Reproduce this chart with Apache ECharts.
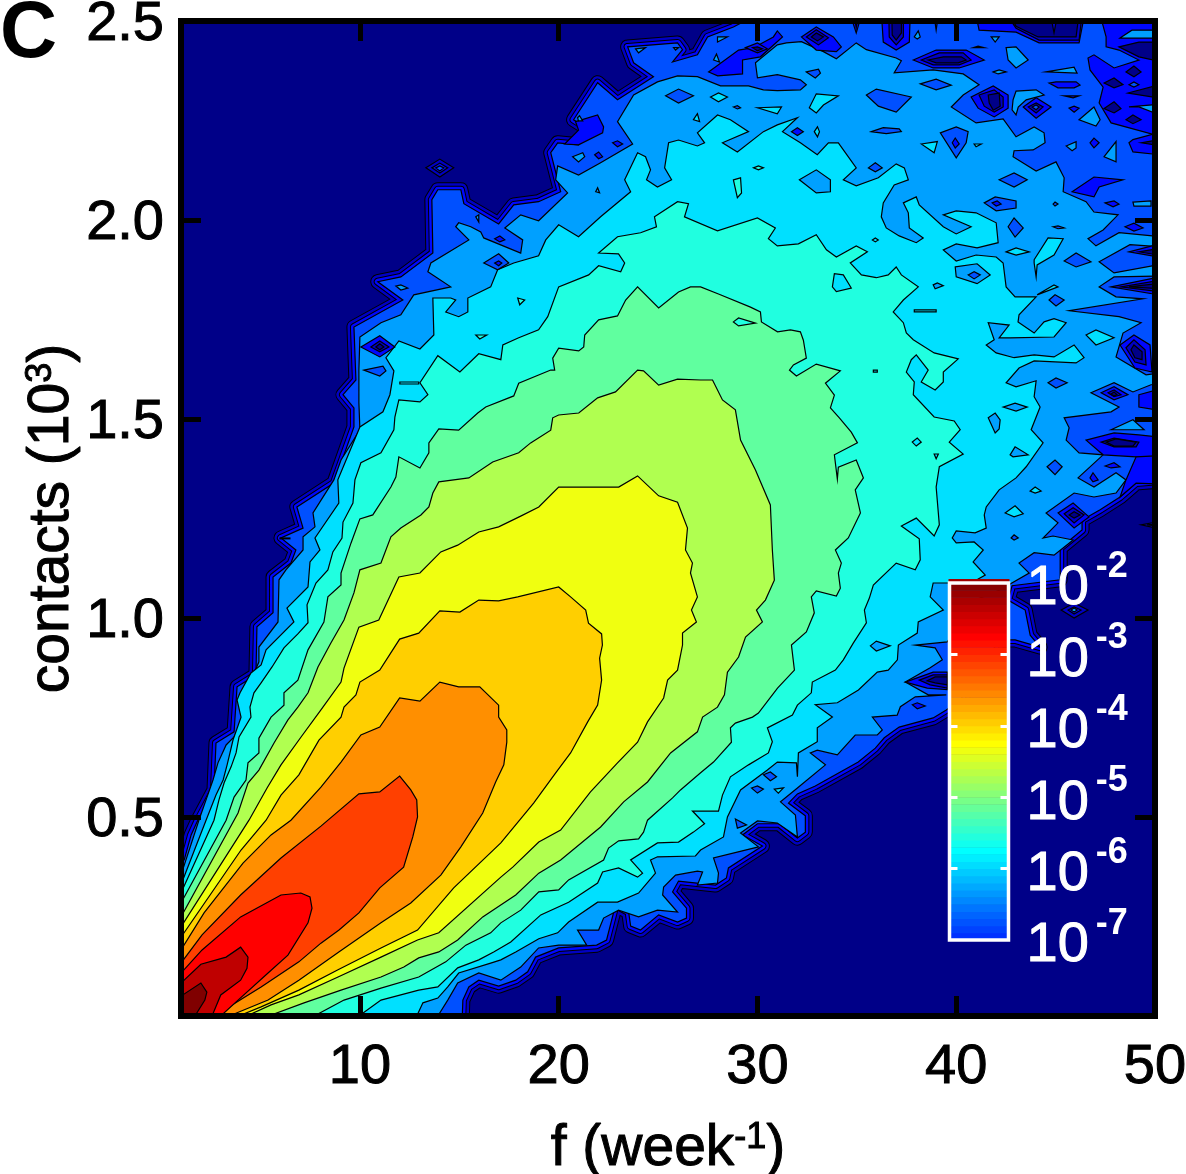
<!DOCTYPE html>
<html><head><meta charset="utf-8">
<script src="https://cdn.jsdelivr.net/npm/echarts@6/dist/echarts.min.js"></script>
<style>html,body{margin:0;padding:0;background:#fff}#c{width:1186px;height:1174px}</style>
</head><body><div id="c"></div>
<script>
// Contour levels: colour of each filled level, lowest to highest
const levelColors=['#000088','#0000c4','#0008ff','#0050ff','#00a0ff','#00e0ff','#20ffe0','#60ff9f','#b0ff50','#f0ff10','#ffcf00','#ff8f00','#ff4000','#ff0000','#bf0000','#800000'];
// Contour outlines as flat f,contacts(10^3) pairs
const band3=[0,-.1,0,.39,1.16,.392,1.51,.455,1.81,.488,2.66,.568,2.76,.686,3.67,.714,3.82,.827,4.77,.857,4.82,.978,5.63,1.013,5.63,1.103,6.53,1.138,6.78,1.171,6.03,1.201,7.14,1.226,6.83,1.279,8.69,1.339,9.7,1.48,9.7,1.528,9.15,1.561,9.8,1.598,9.7,1.731,12.16,1.799,10.9,1.845,12.06,1.857,13.67,1.917,13.62,2.051,13.92,2.076,15.08,2.076,15.23,2.041,16.98,1.99,17.74,2.038,18.99,2.046,20.1,2.071,19.6,2.169,19.95,2.194,21,2.189,21.71,2.222,20.75,2.252,21.96,2.345,22.96,2.302,24.77,2.36,23.77,2.395,23.47,2.435,25.98,2.445,26.23,2.428,25.73,2.397,26.98,2.415,27.49,2.46,28.79,2.485,30.15,2.52,30.2,2.7,51,2.7,51,1.347,49.05,1.339,48.24,1.304,47.24,1.272,46.33,1.246,46.33,1.221,45.23,1.176,45.23,1.096,42.81,1.081,42.61,1.045,43.47,1.02,43.72,.957,44.22,.927,42.96,.945,42.21,.945,41.46,.895,40.2,.794,39.5,.769,38.84,.749,37.13,.726,36.38,.699,35.93,.673,35.07,.638,32.91,.578,32.01,.558,31.56,.535,32.41,.503,32.41,.462,32.01,.447,31.1,.483,30,.483,29.25,.455,30.25,.427,28.54,.372,28.44,.347,27.89,.329,26.03,.339,25.73,.312,26.43,.271,26.43,.246,25.98,.236,25.03,.254,24.12,.216,23.62,.226,23.52,.261,22.86,.279,22.41,.191,21.91,.178,20,.171,18.84,.148,18.44,.111,17.84,.09,16.98,.075,15.98,.09,15.48,.073,15.18,.04,15.08,-.1];
const band4=[1,.354,1.91,.493,2.26,.543,2.61,.593,2.86,.636,3.27,.681,3.67,.701,4.17,.749,4.02,.782,4.47,.837,4.92,.89,4.92,.927,5.88,.99,5.93,1.096,6.28,1.121,7.14,1.171,7.14,1.204,7.74,1.229,7.64,1.264,8.69,1.347,9.05,1.397,10,1.473,9.95,1.541,9.95,1.623,10,1.706,11.06,1.742,12.06,1.762,12.71,1.812,14.57,1.832,13.42,1.87,13.57,1.892,15.48,1.95,14.82,1.983,14.97,1.993,15.58,1.983,16.08,1.97,16.23,1.955,18.09,1.917,18.19,1.95,17.29,1.98,18.09,2.013,18.99,1.998,20.45,2.068,19.85,2.101,19.95,2.136,21,2.113,22.11,2.144,23.72,2.191,22.96,2.247,23.77,2.314,24.97,2.347,25.98,2.362,26.98,2.36,28.14,2.337,29.55,2.337,30.3,2.327,31,2.325,32.16,2.327,32.46,2.34,32.16,2.352,31,2.365,30,2.357,29.9,2.395,31,2.44,31.46,2.445,32.21,2.448,33.32,2.423,33.97,2.405,34.97,2.445,35.48,2.428,36.98,2.407,37.24,2.4,36.88,2.37,38.84,2.377,40.35,2.367,41.15,2.34,40.35,2.314,39.75,2.284,41,2.244,42.36,2.254,43.01,2.209,43.92,2.234,44.42,2.219,44.47,2.194,43.87,2.176,42.91,2.174,42.86,2.159,44.02,2.123,45.02,2.146,45.43,2.106,45.38,2.071,46.53,2.046,46.93,2.02,48.14,2.013,47.39,1.975,46.63,1.953,47.03,1.935,48.19,1.968,51,1.955,51,1.93,48.74,1.938,47.19,1.895,47.94,1.867,51,1.895,51,1.86,47.94,1.857,47.19,1.832,48.04,1.807,49.4,1.802,45.68,1.772,48.19,1.757,49.3,1.742,48.39,1.716,48.29,1.699,48.04,1.656,49.55,1.611,51,1.62,51,1.59,49.8,1.586,48.89,1.568,47.94,1.591,46.78,1.566,48.19,1.53,47.79,1.518,45.43,1.503,45.68,1.478,45.53,1.447,46.18,1.415,47.39,1.41,46.13,1.352,46.93,1.329,48.04,1.365,48.54,1.347,48.04,1.314,46.93,1.304,45.93,1.314,44.52,1.264,45.12,1.239,44.37,1.201,44.87,1.206,45.88,1.196,44.92,1.158,43.92,1.164,43.16,1.138,43.67,1.113,42.21,1.071,40.95,1.045,39.55,.94,37.94,.932,38.94,.925,39.3,.895,38.69,.875,37.44,.839,38.59,.807,39.5,.807,37.94,.802,37.19,.777,37.03,.756,35.78,.751,36.28,.719,36.03,.706,34.92,.706,34.02,.656,33.01,.668,32.66,.661,33.42,.631,32.01,.573,31.16,.538,31.91,.505,32.01,.45,31,.485,30,.49,29.15,.46,30.05,.425,27.79,.397,28.04,.359,27.99,.334,26.98,.329,27.24,.362,26.98,.364,25.88,.354,25.28,.324,25.23,.304,25.98,.261,24.97,.266,24.02,.249,23.01,.266,22.26,.246,22.01,.216,20.95,.216,21.41,.178,20,.178,18.99,.171,18.09,.123,17.09,.09,15.98,.108,14.92,.083,14.42,.04,13.92,0,1,0];
const band5=[1,.33,2.26,.492,2.76,.555,3.12,.593,3.32,.631,3.62,.694,4.02,.751,3.82,.794,3.97,.812,4.52,.862,5.03,.882,5.28,.92,6.68,.99,6.33,1.025,7.39,1.078,7.49,1.141,7.99,1.171,7.74,1.201,8.94,1.289,8.89,1.347,10,1.48,11.16,1.518,11.51,1.561,11.71,1.621,11.31,1.654,11.96,1.696,13.02,1.676,13.72,1.711,13.67,1.804,14.57,1.804,14.82,1.799,14.32,1.769,14.97,1.757,15.43,1.769,15.43,1.804,16.58,1.832,16.93,1.875,17.74,1.892,18.99,1.91,19.35,1.95,20,1.988,21,1.958,22.11,2.008,23.62,2.071,23.32,2.101,23.97,2.169,24.37,2.159,24.62,2.126,24.42,2.101,24.97,2.083,25.68,2.101,25.33,2.131,25.53,2.194,26.03,2.201,26.98,2.186,27.34,2.194,26.98,2.219,27.99,2.264,28.64,2.252,29.55,2.222,28.24,2.194,28.99,2.171,30.3,2.222,31,2.239,32.01,2.257,31.26,2.222,32.16,2.194,33.01,2.164,33.57,2.194,34.07,2.194,34.97,2.131,34.32,2.101,34.97,2.086,36.08,2.106,36.98,2.141,37.39,2.131,37.59,2.101,36.88,2.088,36.33,2.043,36.23,2.008,36.48,1.98,37.13,1.96,37.99,1.943,38.34,1.955,37.64,1.98,37.59,2.018,37.34,2.043,37.99,2.058,38.14,2.038,39.35,1.983,40,1.965,40.75,1.983,39.35,2.013,40,2.023,41,2.018,42.01,1.993,42.11,1.943,41.05,1.93,40,1.94,39.35,1.925,40,1.897,41,1.912,42.01,1.907,42.36,1.892,42.51,1.832,42.96,1.807,44.02,1.807,43.16,1.762,43.11,1.744,43.92,1.716,44.42,1.744,44.92,1.752,45.53,1.742,44.92,1.706,42.71,1.704,42.16,1.704,42.66,1.736,41.61,1.742,41.91,1.699,41.51,1.686,42.01,1.666,42.91,1.654,43.92,1.661,44.92,1.656,45.93,1.686,46.43,1.654,46.03,1.641,43.92,1.646,43.16,1.628,42.51,1.591,43.01,1.581,44.02,1.596,43.92,1.556,44.22,1.53,43.77,1.473,44.37,1.44,43.52,1.38,43.01,1.352,42.16,1.322,41.51,1.279,41.41,1.259,41.51,1.226,40.95,1.214,40,1.219,39.8,1.201,40,1.189,40.9,1.191,41.36,1.171,40.85,1.141,41.46,1.108,40.75,1.088,38.84,1.088,38.69,1.053,39.35,1.02,38.09,.99,38.04,.962,37.09,.932,37.04,.895,36.58,.869,36.03,.864,35.08,.819,34.02,.787,32.91,.782,33.77,.751,33.01,.724,33.01,.689,32.06,.661,32.01,.601,31.96,.636,31,.638,30.5,.618,29.15,.568,28.49,.5,28.29,.45,27.14,.417,26.88,.402,24.97,.4,24.62,.392,24.87,.359,24.02,.309,22.96,.286,21.96,.286,20.5,.236,19.95,.209,19,.194,17.84,.161,17.09,.141,16.58,.133,14.97,.108,14.42,.073,13.92,.045,13.17,.033,12.86,0,1,0];
const band6=[1,.309,2.66,.492,2.91,.543,3.17,.586,3.52,.626,3.77,.661,3.92,.701,4.52,.751,4.47,.776,4.67,.812,5.03,.837,5.58,.877,6.18,.925,6.88,.96,7.39,.988,7.34,1.033,7.79,1.088,8.39,1.121,8.64,1.166,9.1,1.201,9.15,1.241,9.65,1.289,9.75,1.347,10.05,1.39,11.06,1.415,11.71,1.473,11.76,1.505,11.96,1.548,13.02,1.543,13.42,1.561,13.02,1.591,13.92,1.659,15.03,1.618,15.98,1.664,17.09,1.649,17.19,1.686,17.99,1.704,18.99,1.724,19.45,1.757,20,1.832,21.51,1.862,22.01,1.885,23.12,1.87,23.32,1.892,23.01,1.915,22.01,1.917,22.96,1.958,24.12,1.968,24.92,1.983,24.82,2.008,25.98,2.046,26.53,2.041,26.33,2.008,27.99,1.973,30,2.005,30.9,1.98,30.55,1.953,31,1.935,32.06,1.94,32.96,1.963,33.47,1.925,33.97,1.907,34.97,1.935,35.53,1.92,34.67,1.892,35.23,1.862,35.98,1.855,36.58,1.862,36.98,1.882,37.24,1.862,38.09,1.832,37.34,1.799,36.83,1.769,37.34,1.742,37.49,1.716,37.84,1.699,38.89,1.666,40.1,1.651,39.35,1.618,39.35,1.593,38.94,1.573,38.24,1.593,38.59,1.623,37.99,1.661,37.74,1.649,37.49,1.618,37.89,1.593,37.84,1.561,38.89,1.505,39.9,1.495,40.2,1.473,39.65,1.442,40.35,1.412,39.15,1.38,38.99,1.329,39.15,1.234,38.89,1.206,37.99,1.251,37.24,1.231,38.14,1.199,38.19,1.146,37.94,1.121,36.98,1.138,35.83,1.083,35.63,1.05,35.38,1.02,35.48,.988,34.82,.937,34.32,.895,33.92,.869,32.76,.839,32.71,.812,32.01,.781,31.76,.756,30.5,.724,30.75,.689,30.55,.661,29.55,.631,28.64,.601,28.24,.555,28.04,.515,26.73,.515,27.34,.483,26.78,.462,26.03,.437,24.97,.435,23.62,.392,24.22,.359,23.97,.349,23.01,.372,22.21,.362,21.96,.334,20.5,.286,19.1,.254,17.59,.186,16.73,.161,15.98,.141,14.92,.121,13.92,.073,12.96,.065,11.06,.04,9.95,0,1,0];
const band7=[1,.284,3.27,.492,3.67,.55,4.27,.593,4.37,.636,4.92,.661,4.92,.698,5.53,.751,6.18,.781,6.18,.812,6.88,.844,7.39,.92,8.19,.99,8.39,1.053,9.05,1.083,9.05,1.113,9.55,1.188,10,1.249,10.65,1.259,11.56,1.329,11.81,1.354,11.96,1.405,13.02,1.377,13.47,1.415,13.47,1.44,13.97,1.475,14.97,1.472,15.93,1.515,16.33,1.53,17.74,1.558,17.99,1.59,19.6,1.623,19.8,1.623,19.7,1.653,20,1.678,21.01,1.671,21.26,1.681,21.31,1.711,22.01,1.749,22.96,1.759,23.37,1.799,23.97,1.832,25.03,1.779,26.03,1.819,26.63,1.832,27.14,1.832,28.04,1.814,29.65,1.781,30.15,1.769,30.2,1.744,31.01,1.719,31.66,1.724,32.16,1.719,32.31,1.698,32.46,1.653,31.81,1.636,31.61,1.623,31.96,1.608,32.96,1.638,34.17,1.621,33.42,1.59,33.87,1.56,33.67,1.528,34.12,1.503,34.72,1.467,35.03,1.44,33.87,1.41,34.02,1.349,34.07,1.379,34.97,1.397,35.33,1.352,34.92,1.322,35.18,1.264,34.57,1.201,33.92,1.171,34.22,1.138,34.07,1.113,34.17,1.075,33.97,1.055,32.96,1.068,32.71,1.053,32.86,1.013,32.46,.965,31.71,.932,31.86,.869,31.01,.824,30.05,.761,29.75,.751,28.89,.736,28.64,.724,28.69,.688,27.79,.638,27.14,.611,26.13,.568,25.73,.548,24.47,.492,24.27,.462,24.02,.445,23.02,.44,22.51,.422,22.26,.392,20.5,.342,20,.317,19,.312,18.09,.266,17.09,.234,16.58,.209,15.33,.178,14.32,.136,12.96,.098,11.06,.07,9.2,.04,7.7,0,1,0];
const band8=[1,.249,3.87,.51,4.37,.585,4.92,.618,5.68,.686,6.38,.744,6.88,.776,7.39,.812,7.89,.877,8.54,.937,9.2,.995,9.7,1.063,10,1.121,11.06,1.138,11.56,1.204,12.06,1.226,13.07,1.259,13.47,1.279,13.67,1.314,13.97,1.342,15.48,1.352,16.68,1.392,17.99,1.415,18.59,1.44,19.6,1.472,19.7,1.503,20,1.51,21.01,1.515,21.96,1.553,22.86,1.568,23.97,1.623,24.27,1.621,25.03,1.585,25.98,1.6,27.14,1.598,27.74,1.598,28.24,1.548,28.89,1.523,29.15,1.447,29.9,1.372,30.65,1.284,30.75,1.171,30.85,1.095,30.4,1.045,29.95,1.02,30.25,.99,29.4,.952,29.05,.902,28.49,.864,28.34,.807,27.99,.776,27.24,.751,26.98,.714,25.63,.661,24.47,.588,23.27,.538,22.11,.475,20.1,.392,19,.359,17.84,.304,16.18,.249,14.92,.191,13.97,.161,12.96,.146,12.21,.123,11.06,.098,9.05,.065,7.19,.033,5.4,0,1,0];
const band9=[1,.224,4.42,.492,5.33,.573,6.03,.631,7.04,.701,8.04,.769,9.05,.839,9.2,.874,9.95,.977,10.95,.995,11.96,1.103,13.02,1.113,14.07,1.166,14.92,1.183,15.98,1.216,16.98,1.229,18.09,1.256,19,1.279,20,1.329,23.02,1.329,23.97,1.357,25.03,1.307,25.98,1.291,26.48,1.226,26.38,1.171,26.73,1.138,26.63,1.113,26.98,1.053,26.68,1.02,26.93,.99,26.23,.962,26.23,.932,25.98,.869,25.48,.844,25.28,.799,24.47,.739,23.97,.688,22.96,.636,21.6,.563,20.1,.467,19,.437,17.69,.374,17.09,.349,13.97,.209,12.9,.191,11.06,.148,8.9,.098,6.93,.053,5.53,.028,4.3,0,1,0];
const band10=[1,.198,4.02,.417,5.28,.492,6.03,.555,6.93,.606,7.94,.693,9.05,.751,9.2,.776,9.8,.807,10,.839,11,.869,12,.947,12.96,.962,14.02,1.018,15.03,1.015,15.98,1.045,16.98,1.043,17.94,1.053,20,1.078,20.6,1.053,21.36,1.02,21.5,.987,22.16,.96,22.2,.932,22.06,.899,22.16,.844,21.96,.781,21.46,.739,20.6,.661,19.85,.611,18.74,.535,17.09,.435,14.72,.322,12.9,.216,11.06,.171,8.9,.116,6.93,.065,5.03,.023,3.9,0,1,0];
const band11=[1,.166,2.16,.259,4.12,.384,5.53,.455,6.53,.492,8.04,.575,9.05,.638,10.05,.706,11,.726,12,.799,13.02,.791,14.02,.839,14.97,.827,16.03,.827,16.98,.781,16.98,.751,17.39,.719,17.39,.688,17.24,.631,16.83,.588,16.18,.51,15.08,.425,14.07,.354,12.56,.284,11.06,.234,8.94,.161,6.93,.09,5.38,.04,3.67,.005,3.3,0,1,0];
const band12=[1,.133,2.06,.204,4,.304,6.03,.397,8.04,.477,9.95,.558,11,.563,12,.603,12.56,.568,12.86,.543,12.9,.5,12.66,.45,12.2,.374,11,.322,9.95,.259,8.95,.216,8.04,.183,6.93,.136,5.03,.073,3,.01,2.9,0,1,0];
const band13=[1,.108,2.06,.166,4,.249,6.03,.304,7.03,.309,7.49,.299,7.59,.271,7.39,.234,6.38,.153,5.38,.108,3.87,.04,3,0,1,0];
const band14=[1,.083,2,.13,3.27,.148,4,.173,4.37,.148,4.32,.12,4,.09,3,.053,2.56,0,1,0];
const band15=[1,.05,2,.083,2.3,.06,2.2,.04,1.7,0,1,0];
// Small closed contours: level index, then flat f,contacts pairs
const islands=[
[2,32.21,2.46,32.96,2.485,33.82,2.46,34.22,2.435,33.97,2.423,32.96,2.427],[1,32.46,2.46,32.96,2.478,33.57,2.458,33.07,2.44],[0,32.71,2.46,32.96,2.47,33.32,2.46,33.02,2.45],
[2,34.12,2.6,34.97,2.47,35.73,2.6],[0,34.57,2.6,34.97,2.483,35.38,2.6],
[2,36.13,2.6,36.33,2.447,36.98,2.427,37.64,2.447,37.74,2.6],[1,36.58,2.6,36.63,2.46,36.98,2.44,37.34,2.46,37.34,2.6],[0,36.73,2.6,36.78,2.465,36.98,2.452,37.24,2.47,37.24,2.6],
[2,38.64,2.6,38.99,2.477,39.35,2.6],
[2,40.65,2.6,41.15,2.477,43.01,2.472,44.17,2.445,46.18,2.445,46.78,2.6],[1,41.36,2.6,43.01,2.482,44.17,2.452,46.18,2.452,46.53,2.6],[0,41.66,2.6,43.01,2.487,44.12,2.46,46.03,2.46,46.38,2.6],[1,44.42,2.6,44.92,2.47,45.43,2.6],
[2,46.78,2.6,47.54,2.46,47.54,2.435,48.19,2.427,49.19,2.402,47.94,2.382,46.93,2.415,46.63,2.407,46.73,2.377,47.39,2.334,47.19,2.294,47.79,2.244,51,2.2,51,2.6],
[4,48.24,2.457,48.84,2.477,51,2.477,51,2.457],[0,48.19,2.435,49.19,2.447,51,2.447,51,2.39,49.19,2.41],[0,48.64,2.319,51,2.35,51,2.3],[0,48.54,2.372,48.94,2.387,49.3,2.372,48.94,2.36],[0,47.44,2.344,47.94,2.357,48.39,2.34,47.94,2.332],[3,48.69,2.34,48.94,2.347,49.19,2.34,48.94,2.334],[0,47.44,2.28,47.94,2.297,48.29,2.28,47.94,2.269],[0,48.54,2.252,48.89,2.264,49.3,2.252,48.89,2.242],[4,48.69,2.284,51,2.294,51,2.25,49.19,2.284],[2,48.69,2.194,48.89,2.202,51,2.23,51,2.16,48.89,2.171],[0,49.3,2.194,51,2.209,51,2.181],
[2,37.84,2.402,38.99,2.427,40.5,2.427,41.41,2.402,40.15,2.382,38.84,2.382],[1,38.24,2.402,39.15,2.42,40.35,2.42,40.75,2.402,40.15,2.39,38.84,2.39],[0,38.59,2.402,39.35,2.41,40.25,2.41,40.5,2.402,40.1,2.395,38.99,2.395],
[4,42.51,2.433,43.01,2.435,43.62,2.402,43.01,2.382,42.61,2.402],[4,41.76,2.46,42.16,2.46,41.96,2.447],[4,40.85,2.433,41.41,2.433,41.1,2.437],[4,41.86,2.372,42.16,2.377,42.51,2.372,42.11,2.367],[4,44.52,2.372,45.93,2.384,46.08,2.369],[4,37.89,2.46,38.09,2.475,38.19,2.46,38.04,2.455],[4,46.18,2.252,46.93,2.284,47.24,2.252,47.03,2.236],
[3,32.46,2.372,33.07,2.379,33.17,2.369,32.91,2.357],[3,35.48,2.314,35.98,2.329,37.74,2.309,36.98,2.271,36.08,2.286],[3,38.19,2.342,38.99,2.354,39.75,2.339,38.99,2.327],[2,44.67,2.344,45.02,2.347,46.03,2.347,46.23,2.339,45.93,2.332,45.12,2.332],[2,45.43,2.312,46.18,2.312,45.88,2.307],[2,45.68,2.281,45.93,2.286,46.18,2.281,45.93,2.271],
[2,40.75,2.309,41.86,2.337,42.61,2.314,42.61,2.281,41.91,2.259,41.1,2.281],[1,41.15,2.314,41.91,2.327,42.36,2.309,42.36,2.284,41.91,2.271,41.41,2.286],[0,41.61,2.314,42.16,2.319,42.21,2.286,41.86,2.276,41.66,2.294],
[4,42.86,2.302,43.01,2.324,44.02,2.327,44.42,2.314,43.52,2.302,43.12,2.284,43.01,2.264,42.81,2.277],
[2,43.37,2.284,44.02,2.307,44.77,2.284,44.02,2.256],[1,43.62,2.284,44.02,2.294,44.37,2.284,44.02,2.269],[3,43.82,2.284,44.02,2.289,44.17,2.284,44.02,2.277],
[4,45.53,2.186,46.03,2.197,46.03,2.181,45.83,2.174],[2,46.73,2.194,46.93,2.206,47.19,2.194,46.93,2.181],[4,47.44,2.159,48.04,2.197,48.04,2.146],[2,45.83,2.071,46.93,2.108,48.39,2.101,47.19,2.083,46.93,2.058],
[3,42.16,2.101,42.91,2.118,43.57,2.101,42.91,2.083],[3,41.41,2.043,41.96,2.058,43.01,2.048,43.01,2.03,42.01,2.023],[2,41.81,2.043,42.06,2.048,42.26,2.04,42.01,2.035],[3,44.87,2.04,44.97,2.045,45.12,2.04,44.97,2.035],[2,47.49,2.043,47.94,2.048,48.19,2.04,47.89,2.033],[4,48.89,2.045,49.8,2.048,49.8,2.035,48.94,2.035],
[3,42.61,1.983,42.91,2.005,43.37,1.98,42.96,1.957],[3,44.87,1.983,45.12,1.985,45.43,1.98,45.12,1.978],[2,48.49,1.983,48.94,1.992,49.4,1.98,48.94,1.972],
[2,48.69,1.92,51,1.95,51,1.9],[0,49.19,1.92,51,1.935,51,1.905],[2,47.79,1.832,51,1.865,51,1.805],[1,48.29,1.832,51,1.855,51,1.815],[0,48.69,1.832,51,1.845,51,1.825],
[3,44.67,1.799,44.97,1.812,45.43,1.799,45.02,1.784],[3,45.43,1.897,46.03,1.917,46.78,1.895,46.03,1.882],[4,39.95,1.882,41.05,1.89,41.71,1.862,41.05,1.84,40,1.857],[3,40.6,1.862,40.9,1.87,41.21,1.862,40.9,1.852],[4,38.84,1.837,39.05,1.842,39.35,1.835,38.94,1.827],
[5,42.51,1.92,43.01,1.93,43.67,1.92,43.01,1.912],[5,43.92,1.9,44.62,1.955,45.38,1.953,44.92,1.912,44.07,1.887,44.02,1.857,43.92,1.892],[5,44.07,1.812,44.92,1.837,45.12,1.832],[5,46.53,1.711,47.03,1.724,47.94,1.704,47.03,1.686],
[2,48.24,1.686,48.94,1.711,49.75,1.686,49.85,1.618,48.99,1.628],[1,48.54,1.679,48.94,1.699,49.5,1.674,49.55,1.636,48.99,1.643],[0,48.79,1.674,48.94,1.686,49.35,1.669,49.35,1.649,48.99,1.654],
[5,32.61,2.282,32.96,2.317,34.07,2.312,33.32,2.289,32.96,2.269],[5,30,2.282,31.21,2.284,31,2.267],[5,27.64,2.309,28.04,2.319,28.49,2.309,28.04,2.297],[3,25.38,2.312,26.03,2.329,26.78,2.312,26.03,2.294],[5,26.78,2.252,26.98,2.267,27.09,2.247],[3,28.79,2.284,28.99,2.287,29.15,2.282,28.99,2.279],[2,31.71,2.222,32.01,2.232,32.31,2.222,32.01,2.212],[5,32.86,2.222,33.02,2.234,33.12,2.222,33.02,2.209],[3,35.73,2.222,36.33,2.232,37.13,2.229,37.24,2.222,36.48,2.217],
[3,39.2,2.219,40,2.234,40.6,2.222,40.5,2.194,40,2.156],[2,39.8,2.194,39.95,2.206,40.15,2.191,39.95,2.181],[5,38.24,2.191,39.05,2.197,38.89,2.169],[5,40.9,2.191,41.26,2.191,41,2.184],[3,35.58,2.131,35.93,2.144,36.28,2.131,35.93,2.121],[4,32.11,2.101,32.96,2.126,33.67,2.101,33.67,2.071,32.96,2.068],
[6,28.79,2.101,29.15,2.106,29.2,2.068,28.99,2.056],[6,29.8,2.131,30.05,2.136,30.3,2.131,30.05,2.126],[4,21.86,2.071,21.96,2.081,22.06,2.068],[4,20.7,2.159,21.21,2.169,21.31,2.159,21,2.146],[2,21.81,2.164,22.01,2.171,22.21,2.159,22.01,2.154],[2,22.71,2.194,22.96,2.199,23.22,2.191,22.96,2.184],
[2,20.85,2.247,21.96,2.264,22.26,2.234,22.21,2.219,21,2.189,20.3,2.191,21,2.226],[4,20.95,2.257,21.05,2.262,21.21,2.249,21,2.249],[4,23.87,2.43,24.37,2.433,24.02,2.42],[4,25.78,2.433,26.03,2.433,25.88,2.427],
[2,27.54,2.372,29.05,2.427,29.8,2.433,30.8,2.46,31,2.475,31.26,2.46,30.15,2.41,29.25,2.402,29.25,2.367,28,2.362],[4,27.99,2.46,28.49,2.46,27.99,2.447],[4,27.79,2.402,27.94,2.417,28.09,2.397],[2,29.4,2.433,30,2.445,30.5,2.43,30,2.42],[0,29.75,2.433,30,2.435,30.25,2.43,30,2.425],
[1,13.32,2.131,14.02,2.153,14.72,2.131,14.02,2.108],[2,13.62,2.131,14.02,2.143,14.42,2.131,14.02,2.118],[3,13.82,2.131,14.02,2.136,14.22,2.131,14.02,2.123],
[4,15.83,2.008,15.98,2.013,15.98,1.995],[2,16.78,1.953,17.04,1.96,17.29,1.95,17.04,1.945],[3,16.23,1.892,16.98,1.915,17.49,1.892,16.93,1.875],[2,16.78,1.892,16.98,1.897,17.14,1.892,16.98,1.885],[6,17.94,1.804,18.29,1.799,18.04,1.787],[6,15.83,1.711,16.38,1.711,16.03,1.701],[6,28.79,1.744,29.05,1.754,29.9,1.741,29.05,1.734],
[5,33.77,1.832,33.87,1.865,34.32,1.862,34.72,1.829,33.97,1.82],[5,35.78,1.95,35.93,1.955,36.08,1.95,35.93,1.945],[5,37.89,1.774,38.99,1.774,38.99,1.769,37.89,1.769],[5,37.79,1.442,38.04,1.452,38.24,1.442,37.99,1.432],[5,38.89,1.412,39.1,1.412,38.99,1.4],[5,35.83,1.623,36.03,1.623,36.03,1.618,35.83,1.618],
[4,41.61,1.503,41.96,1.515,42.21,1.498,42.16,1.475,41.96,1.465],[4,42.36,1.53,42.96,1.54,43.57,1.53,43.01,1.52],[4,42.71,1.41,42.96,1.43,43.62,1.41,42.86,1.405],[3,44.62,1.591,45.02,1.603,45.58,1.591,45.02,1.578],[3,44.57,1.38,44.97,1.397,45.33,1.38,44.97,1.36],[5,43.72,1.319,43.97,1.329,44.27,1.319,43.97,1.314],[5,42.46,1.264,42.96,1.282,43.37,1.262,42.91,1.254],[3,42.76,1.201,42.91,1.209,43.12,1.201,42.91,1.196],[4,35.68,.93,35.98,.942,36.68,.93,35.98,.917],
[2,47.29,1.566,47.94,1.581,48.64,1.561,47.94,1.548],[1,47.64,1.566,47.94,1.573,48.29,1.561,47.94,1.556],[0,47.79,1.563,47.94,1.568,48.09,1.561,47.94,1.558],[2,49.19,1.561,51,1.586,51,1.515,49.19,1.53],[4,47.79,1.473,48.89,1.498,49.45,1.473],
[2,46.53,1.447,47.94,1.465,49.19,1.46,51,1.45,51,1.405,49.05,1.405,47.39,1.41],[1,47.29,1.442,47.94,1.452,49.19,1.442,49.05,1.43,47.94,1.43],[0,47.54,1.442,48.04,1.45,49.05,1.442,48.89,1.432,47.94,1.432],[2,49.05,1.405,51,1.41,51,1.335,49.05,1.339,48.24,1.304,48.54,1.347],[2,47.49,1.382,47.94,1.39,48.24,1.38,47.79,1.377],[2,46.73,1.352,46.88,1.365,47.14,1.347,46.88,1.342],
[2,45.12,1.264,45.88,1.289,46.68,1.254,45.93,1.226],[1,45.43,1.262,45.88,1.277,46.43,1.259,45.93,1.239],[0,45.68,1.259,45.93,1.267,46.23,1.259,45.93,1.251],[1,49.3,1.234,51,1.25,51,1.215],[3,49.6,1.234,51,1.24,51,1.228],
[1,45.28,1.02,45.93,1.038,46.63,1.02,45.93,1],[2,45.63,1.02,45.93,1.028,46.28,1.02,45.93,1.01],[4,45.78,1.02,45.93,1.025,46.08,1.02,45.93,1.015],
[2,37.44,.839,38.84,.864,39.55,.864,39.55,.82,38.54,.824],[1,38.14,.844,38.84,.857,39.55,.857,39.55,.824,38.69,.832],[0,38.54,.842,38.94,.852,39.55,.852,39.55,.832,38.94,.837],[2,37.79,.782,38.04,.787,38.44,.779,38.04,.772],
[3,28.89,.495,29.45,.48,28.99,.472],[3,30.3,.606,30.65,.613,30.96,.601,30.65,.591],[3,29.7,.573,30,.578,30.3,.57,30,.56],[5,30.85,.57,31.31,.573,31.05,.56],
[2,10.05,1.681,11,1.709,11.76,1.681,11,1.656],[1,10.55,1.681,11,1.696,11.46,1.681,11,1.669],[0,10.8,1.681,11,1.689,11.21,1.681,11,1.674],[3,10.2,1.623,11.16,1.633,11.31,1.621,11,1.608],[5,12.01,1.593,12.96,1.593,12.96,1.588,12.01,1.588],[4,11.81,1.834,12.06,1.837,12.41,1.829,12.06,1.824],[2,5.98,1.201,6.48,1.201,6.48,1.199,5.98,1.199]
];
const bandLevels=[[3,band3],[4,band4],[5,band5],[6,band6],[7,band7],[8,band8],[9,band9],[10,band10],[11,band11],[12,band12],[13,band13],[14,band14],[15,band15]];
// Axis tick labels
const xTicks=[10,20,30,40,50];
const yTicks=[0.5,1.0,1.5,2.0,2.5];
const barTicks=[-7,-6,-5,-4,-3,-2];
const barInnerTicks=[-6,-5,-4,-3];
const barStops=[[0,[0,40,255]],[.25,[0,255,255]],[.55,[255,255,0]],[.85,[255,0,0]],[1,[128,0,0]]];
const BAR_STEPS=50;

const FONT='"Liberation Sans", Arial, sans-serif';
const shapes=[];
bandLevels.forEach(b=>shapes.push({lvl:b[0],pts:b[1],env:b[0]===3}));
islands.forEach(a=>shapes.push({lvl:a[0],pts:a.slice(1)}));

function barColor(t){
  for(let i=1;i<barStops.length;i++){
    if(t<=barStops[i][0]){
      const a=barStops[i-1],b=barStops[i],k=(t-a[0])/(b[0]-a[0]);
      return 'rgb('+a[1].map((v,j)=>Math.round(v+(b[1][j]-v)*k)).join(',')+')';
    }
  }
  return 'rgb(128,0,0)';
}
const chart=echarts.init(document.getElementById('c'),null,{renderer:'canvas'});
const tickStyle={show:true,inside:true,length:20,lineStyle:{color:'#000',width:5}};
const lineStyle={show:true,onZero:false,lineStyle:{color:'#000',width:6,cap:'square'}};
const labelStyle={color:'#000',fontFamily:FONT,fontSize:56,textBorderColor:'#000',textBorderWidth:1};
const supRich={s:{fontSize:36,color:'#000',fontFamily:FONT,verticalAlign:'top',textBorderColor:'#000',textBorderWidth:1,padding:[0,0,22,0]}};
function toPts(api,flat){const p=[];for(let i=0;i<flat.length;i+=2)p.push(api.coord([flat[i],flat[i+1]]));return p;}
chart.setOption({
  animation:false,
  backgroundColor:'#fff',
  title:{text:'C',left:-5,top:-9,textStyle:{fontFamily:FONT,fontWeight:'bold',fontSize:79,color:'#000'}},
  grid:[{left:181,top:21,width:974,height:995,show:true,backgroundColor:levelColors[0],borderWidth:0,outerBoundsMode:'none'},
        {left:949.5,top:583,width:59,height:357,show:false,outerBoundsMode:'none'}],
  xAxis:[
    {gridIndex:0,type:'value',min:1,max:50,position:'bottom',z:10,splitLine:{show:false},axisLine:lineStyle,
     axisTick:Object.assign({customValues:xTicks},tickStyle),
     axisLabel:Object.assign({customValues:xTicks,margin:24},labelStyle),
     name:'f (week{s|-1})',nameLocation:'middle',nameGap:104,
     nameTextStyle:{color:'#000',fontFamily:FONT,fontSize:57,textBorderColor:'#000',textBorderWidth:1,rich:supRich}},
    {gridIndex:0,type:'value',min:1,max:50,position:'top',z:10,splitLine:{show:false},axisLine:lineStyle,
     axisTick:Object.assign({customValues:xTicks.slice(0,4)},tickStyle),axisLabel:{show:false}},
    {gridIndex:1,type:'value',min:0,max:1,show:false}
  ],
  yAxis:[
    {gridIndex:0,type:'value',min:0,max:2.5,position:'left',z:10,splitLine:{show:false},axisLine:lineStyle,
     axisTick:Object.assign({customValues:yTicks},tickStyle),
     axisLabel:{customValues:yTicks,margin:17,formatter:v=>'{v|'+v.toFixed(1)+'}',
       rich:{v:Object.assign({padding:[8,0,0,0]},labelStyle)}},
     name:'contacts (10{s|3})',nameLocation:'middle',nameGap:100,nameRotate:90,nameMoveOverlap:false,
     nameTextStyle:{color:'#000',fontFamily:FONT,fontSize:57,textBorderColor:'#000',textBorderWidth:1,rich:supRich}},
    {gridIndex:0,type:'value',min:0,max:2.5,position:'right',z:10,splitLine:{show:false},axisLine:lineStyle,
     axisTick:Object.assign({customValues:yTicks.slice(0,4)},tickStyle),axisLabel:{show:false}},
    {gridIndex:1,type:'value',min:-7,max:-2,position:'right',z:12,splitLine:{show:false},axisLine:{show:false,onZero:false},
     axisTick:{show:true,inside:true,length:8,customValues:barInnerTicks,lineStyle:{color:'#fff',width:3}},
     axisLabel:{customValues:barTicks,margin:18,color:'#fff',fontFamily:FONT,
       formatter:v=>'{a|10}{b|'+v+'}',
       rich:{a:{color:'#fff',fontFamily:FONT,fontSize:56,textBorderColor:'#fff',textBorderWidth:1,padding:[12,0,0,0]},b:{color:'#fff',fontFamily:FONT,fontSize:36,fontWeight:'bold',verticalAlign:'top',padding:[0,0,0,7]}}}},
    {gridIndex:1,type:'value',min:-7,max:-2,position:'left',z:12,splitLine:{show:false},axisLine:{show:false,onZero:false},axisLabel:{show:false},
     axisTick:{show:true,inside:true,length:8,customValues:barInnerTicks,lineStyle:{color:'#fff',width:3}}}
  ],
  series:[
    {type:'custom',xAxisIndex:0,yAxisIndex:0,clip:true,silent:true,z:2,
     data:shapes.map((s,i)=>[i]),
     renderItem:function(params,api){
       const s=shapes[api.value(0)];
       const points=toPts(api,s.pts);
       const kids=[];
       if(s.env){
         [[15,'#000'],[13,levelColors[1]],[8,'#000'],[6,levelColors[2]]].forEach(w=>{
           kids.push({type:'polygon',shape:{points:points},style:{fill:w[1],stroke:w[1],lineWidth:w[0],lineJoin:'round'}});
         });
       }
       kids.push({type:'polygon',shape:{points:points},style:{fill:levelColors[s.lvl],stroke:'#000',lineWidth:1.2}});
       return {type:'group',children:kids};
     }},
    {type:'custom',xAxisIndex:2,yAxisIndex:2,clip:false,silent:true,z:5,
     data:Array.from({length:BAR_STEPS+2},(_,i)=>[i]),
     renderItem:function(params,api){
       const i=api.value(0);
       const a0=api.coord([0,-7]),b0=api.coord([1,-2]);
       if(i===BAR_STEPS){
         return {type:'rect',shape:{x:a0[0]-1,y:b0[1]-4,width:b0[0]-a0[0]+2,height:4},style:{fill:'#a00000'}};
       }
       if(i===BAR_STEPS+1){
         return {type:'rect',shape:{x:a0[0],y:b0[1],width:b0[0]-a0[0],height:a0[1]-b0[1]},style:{fill:null,stroke:'#fff',lineWidth:3.5}};
       }
       const lo=-7+i/BAR_STEPS*5,hi=-7+(i+1)/BAR_STEPS*5;
       const a=api.coord([0,lo]),b=api.coord([1,hi]);
       return {type:'rect',shape:{x:a[0],y:b[1],width:b[0]-a[0],height:a[1]-b[1]+.5},style:{fill:barColor((i+.5)/BAR_STEPS)}};
     }}
  ]
});
</script></body></html>
